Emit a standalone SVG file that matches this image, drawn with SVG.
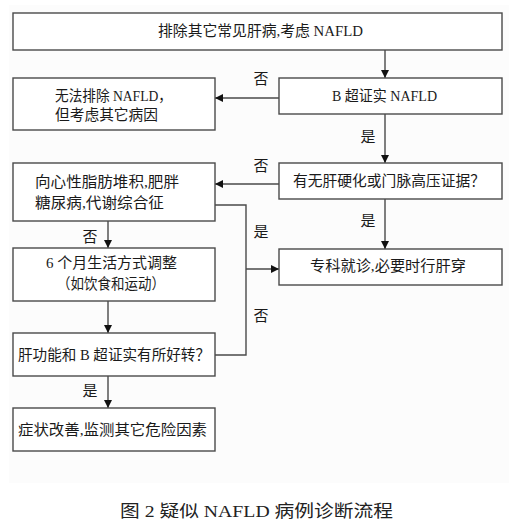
<svg xmlns="http://www.w3.org/2000/svg" width="510" height="524" viewBox="0 0 510 524">
<style>
.box{fill:#ffffff;stroke:#4a4a4a;stroke-width:1.4}
.t{font-family:"Liberation Serif","Noto Sans CJK SC",serif;font-size:15px;fill:#1a1a1a;dominant-baseline:central}
.c{text-anchor:middle}
.ln{fill:none;stroke:#4a4a4a;stroke-width:1.4}
.cap{font-family:"Liberation Serif","Noto Sans CJK SC",serif;font-size:17px;fill:#222;dominant-baseline:central}
</style>
<defs>
<marker id="ah" viewBox="0 0 10 10" refX="10" refY="5" markerWidth="8" markerHeight="8" markerUnits="userSpaceOnUse" orient="auto">
<path d="M0,0 L10,5 L0,10 z" fill="#111"/>
</marker>
</defs>
<rect x="0" y="0" width="510" height="524" fill="#ffffff"/>
<rect x="9" y="5" width="500" height="478" fill="#fcfcfc"/>

<g id="connectors">
<line class="ln" x1="385" y1="50" x2="385" y2="78" marker-end="url(#ah)"/>
<line class="ln" x1="279" y1="98" x2="215" y2="98" marker-end="url(#ah)"/>
<line class="ln" x1="385" y1="114" x2="385" y2="163" marker-end="url(#ah)"/>
<line class="ln" x1="279" y1="184" x2="215" y2="184" marker-end="url(#ah)"/>
<line class="ln" x1="385" y1="199" x2="385" y2="249" marker-end="url(#ah)"/>
<line class="ln" x1="108" y1="221" x2="108" y2="248" marker-end="url(#ah)"/>
<line class="ln" x1="108" y1="301" x2="108" y2="333" marker-end="url(#ah)"/>
<line class="ln" x1="108" y1="376" x2="108" y2="408" marker-end="url(#ah)"/>
<polyline class="ln" points="215,205 246,205 246,355 215,355"/>
<line class="ln" x1="246" y1="269" x2="279" y2="269" marker-end="url(#ah)"/>
<text class="t c" x="261" y="79">否</text>
<text class="t c" x="368" y="137">是</text>
<text class="t c" x="261" y="166">否</text>
<text class="t c" x="368" y="221">是</text>
<text class="t c" x="261" y="232">是</text>
<text class="t c" x="261" y="316">否</text>
<text class="t c" x="90" y="237">否</text>
<text class="t c" x="90" y="391">是</text>
</g>

<g id="n-start">
<rect class="box" x="13" y="13" width="489" height="37"/>
<text class="t" x="158" y="31" textLength="205" lengthAdjust="spacingAndGlyphs">排除其它常见肝病,考虑 NAFLD</text>
</g>
<g id="n-bus">
<rect class="box" x="279" y="78" width="223" height="36"/>
<text class="t" x="332" y="96" textLength="105" lengthAdjust="spacingAndGlyphs">B 超证实 NAFLD</text>
</g>
<g id="n-other">
<rect class="box" x="13" y="78" width="202" height="52"/>
<text class="t" x="55" y="96" textLength="117" lengthAdjust="spacingAndGlyphs">无法排除 NAFLD，</text>
<text class="t" x="55" y="115" textLength="103" lengthAdjust="spacingAndGlyphs">但考虑其它病因</text>
</g>
<g id="n-cirrhosis">
<rect class="box" x="279" y="163" width="223" height="36"/>
<text class="t" x="293" y="181" textLength="192" lengthAdjust="spacingAndGlyphs">有无肝硬化或门脉高压证据？</text>
</g>
<g id="n-risk">
<rect class="box" x="13" y="163" width="202" height="58"/>
<text class="t" x="35" y="182" textLength="144" lengthAdjust="spacingAndGlyphs">向心性脂肪堆积,肥胖</text>
<text class="t" x="35" y="203" textLength="129" lengthAdjust="spacingAndGlyphs">糖尿病,代谢综合征</text>
</g>
<g id="n-specialist">
<rect class="box" x="279" y="249" width="223" height="36"/>
<text class="t" x="310" y="266" textLength="156" lengthAdjust="spacingAndGlyphs">专科就诊,必要时行肝穿</text>
</g>
<g id="n-lifestyle">
<rect class="box" x="13" y="248" width="202" height="53"/>
<text class="t" x="46" y="263" textLength="131" lengthAdjust="spacingAndGlyphs">6 个月生活方式调整</text>
<text class="t" x="57" y="284" textLength="108" lengthAdjust="spacingAndGlyphs">（如饮食和运动）</text>
</g>
<g id="n-improve">
<rect class="box" x="13" y="333" width="202" height="43"/>
<text class="t" x="18" y="355" textLength="192" lengthAdjust="spacingAndGlyphs">肝功能和 B 超证实有所好转？</text>
</g>
<g id="n-monitor">
<rect class="box" x="13" y="408" width="202" height="43"/>
<text class="t" x="18" y="430" textLength="189" lengthAdjust="spacingAndGlyphs">症状改善,监测其它危险因素</text>
</g>

<text class="cap" x="120" y="511" textLength="273" lengthAdjust="spacingAndGlyphs">图 2 疑似 NAFLD 病例诊断流程</text>
</svg>
